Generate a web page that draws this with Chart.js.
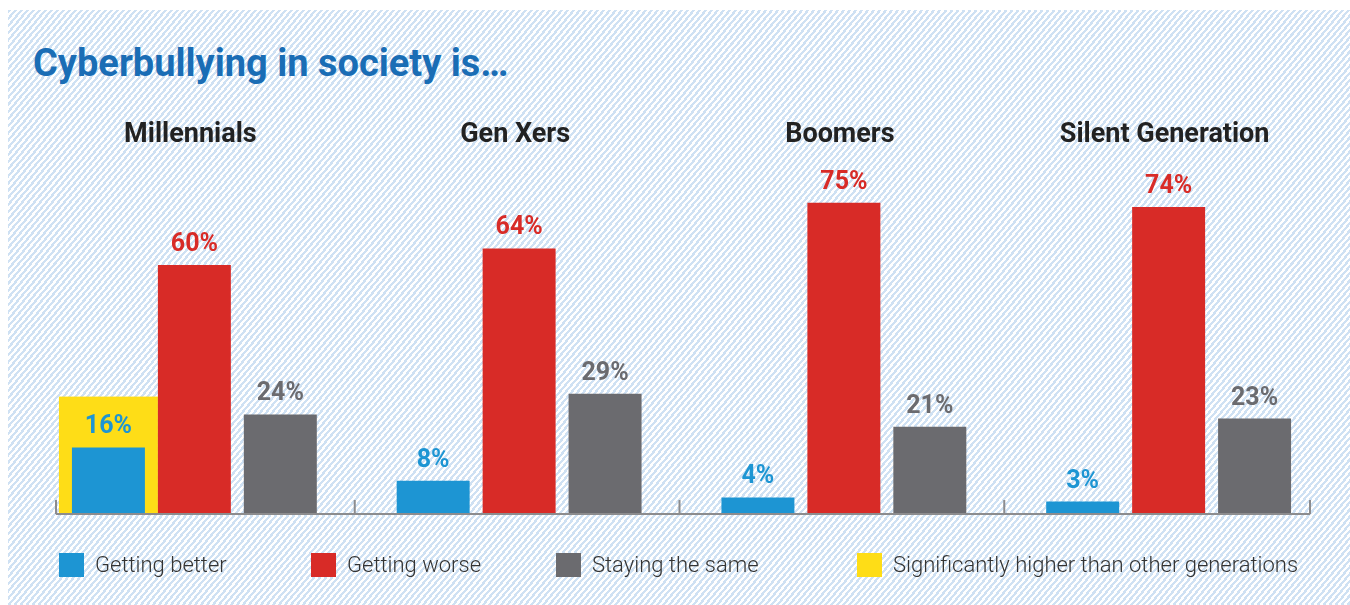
<!DOCTYPE html>
<html lang="en">
<head>
    <meta charset="UTF-8">
    <title>Cyberbullying in society</title>
    <script src="https://cdn.jsdelivr.net/npm/chart.js"></script>
    <style>
        html, body {
            margin: 0;
            padding: 0;
            width: 1350px;
            height: 605px;
            background: #fff;
            overflow: hidden;
        }
        .panel {
            position: absolute;
            left: 8px;
            top: 10px;
            width: 1342px;
            height: 595px;
            background: repeating-linear-gradient(130deg, #cfe1f3 0 2.3px, #fff 2.3px 4.6px);
        }
        h1 {
            position: absolute;
            left: 33px;
            top: 39px;
            margin: 0;
            font-family: Roboto, sans-serif;
            font-weight: bold;
            font-size: 38px;
            line-height: 48px;
            color: #1a6db5;
        }
        canvas {
            position: absolute;
            left: 0;
            top: 0;
        }
        .legend {
            position: absolute;
            top: 553px;
            height: 24px;
            font-family: Roboto, sans-serif;
            font-weight: 300;
            font-size: 22px;
            color: #333;
        }
        .legend span.box {
            position: absolute;
            left: 0;
            top: 0;
            width: 25px;
            height: 24px;
        }
        .legend span.text {
            position: absolute;
            left: 36px;
            top: -1px;
            white-space: nowrap;
        }
    </style>
</head>
<body>
    <div class="panel"></div>
    <h1>Cyberbullying in society is…</h1>
    <canvas id="chart" width="1350" height="605"></canvas>
    <div id="legend"></div>
    <script>
        const generations = ["Millennials", "Gen Xers", "Boomers", "Silent Generation"];
        const seriesNames = ["Getting better", "Getting worse", "Staying the same"];
        const seriesColors = ["#1d95d3", "#d82b27", "#6b6b6f"];
        const gettingBetter = [16, 8, 4, 3];
        const gettingWorse = [60, 64, 75, 74];
        const stayingSame = [24, 29, 21, 23];
        // true where "getting better" is significantly higher than the other generations
        const significant = [true, false, false, false];
        const highlightName = "Significantly higher than other generations";
        const highlightColor = "#fedd17";

        // legend positions along the bottom
        const legendX = [59, 311, 556, 857];

        const legendEl = document.getElementById("legend");
        const legendItems = seriesNames.map((n, i) => [n, seriesColors[i]]).concat([[highlightName, highlightColor]]);
        legendItems.forEach(([name, color], i) => {
            const d = document.createElement("div");
            d.className = "legend";
            d.style.left = legendX[i] + "px";
            d.innerHTML = '<span class="box" style="background:' + color + '"></span><span class="text">' + name + '</span>';
            legendEl.appendChild(d);
        });

        const font = 'Roboto, sans-serif';

        // yellow box behind the "getting better" bar and its label
        const highlightPlugin = {
            id: "highlight",
            beforeDatasetsDraw(chart) {
                const ctx = chart.ctx;
                const bars = chart.getDatasetMeta(0).data;
                const base = chart.scales.y.getPixelForValue(0);
                ctx.save();
                ctx.fillStyle = highlightColor;
                bars.forEach((bar, i) => {
                    if (!significant[i]) return;
                    const pad = 13;
                    const left = bar.x - bar.width / 2 - pad;
                    const right = bar.x + bar.width / 2 + pad;
                    const top = bar.y - 51;
                    ctx.fillRect(left, top, right - left, base - top);
                });
                ctx.restore();
            }
        };

        // baseline with ticks between generations, value labels, generation names
        const labelsPlugin = {
            id: "labels",
            afterDatasetsDraw(chart) {
                const ctx = chart.ctx;
                const x = chart.scales.x;
                const base = chart.scales.y.getPixelForValue(0);
                const step = x.getPixelForValue(1) - x.getPixelForValue(0);
                ctx.save();

                // axis line
                const ends = [x.getPixelForValue(0) - step / 2 + 24, x.getPixelForValue(generations.length - 1) + step / 2 - 21];
                const ticks = [ends[0]];
                for (let i = 1; i < generations.length; i++) ticks.push(x.getPixelForValue(i) - step / 2 - 2);
                ticks.push(ends[1]);
                ctx.strokeStyle = "#8c8c8e";
                ctx.lineWidth = 2;
                ctx.beginPath();
                ctx.moveTo(ends[0], base);
                ctx.lineTo(ends[1], base);
                ticks.forEach(t => {
                    ctx.moveTo(t, base);
                    ctx.lineTo(t, base - 14);
                });
                ctx.stroke();

                // value labels
                ctx.font = "bold 25px " + font;
                ctx.textAlign = "center";
                ctx.textBaseline = "alphabetic";
                chart.data.datasets.forEach((ds, di) => {
                    chart.getDatasetMeta(di).data.forEach((bar, i) => {
                        const lift = (di === 0 && significant[i]) ? 15 : 14;
                        ctx.fillStyle = seriesColors[di];
                        ctx.fillText(ds.data[i] + "%", bar.x, bar.y - lift);
                    });
                });

                // generation names
                ctx.font = "bold 27px " + font;
                ctx.fillStyle = "#222";
                generations.forEach((g, i) => {
                    ctx.fillText(g, x.getPixelForValue(i) - 4, 142);
                });
                ctx.restore();
            }
        };

        new Chart(document.getElementById("chart"), {
            type: "bar",
            data: {
                labels: generations,
                datasets: [
                    { label: seriesNames[0], data: gettingBetter, backgroundColor: seriesColors[0] },
                    { label: seriesNames[1], data: gettingWorse, backgroundColor: seriesColors[1] },
                    { label: seriesNames[2], data: stayingSame, backgroundColor: seriesColors[2] }
                ]
            },
            options: {
                responsive: false,
                animation: false,
                layout: { padding: { left: 32, right: 19, top: 99, bottom: 91 } },
                datasets: {
                    bar: { categoryPercentage: 0.794, barPercentage: 0.849 }
                },
                scales: {
                    x: { display: false },
                    y: { display: false, min: 0, max: 100 }
                },
                plugins: {
                    legend: { display: false },
                    tooltip: { enabled: false }
                }
            },
            plugins: [highlightPlugin, labelsPlugin]
        });
    </script>
</body>
</html>
